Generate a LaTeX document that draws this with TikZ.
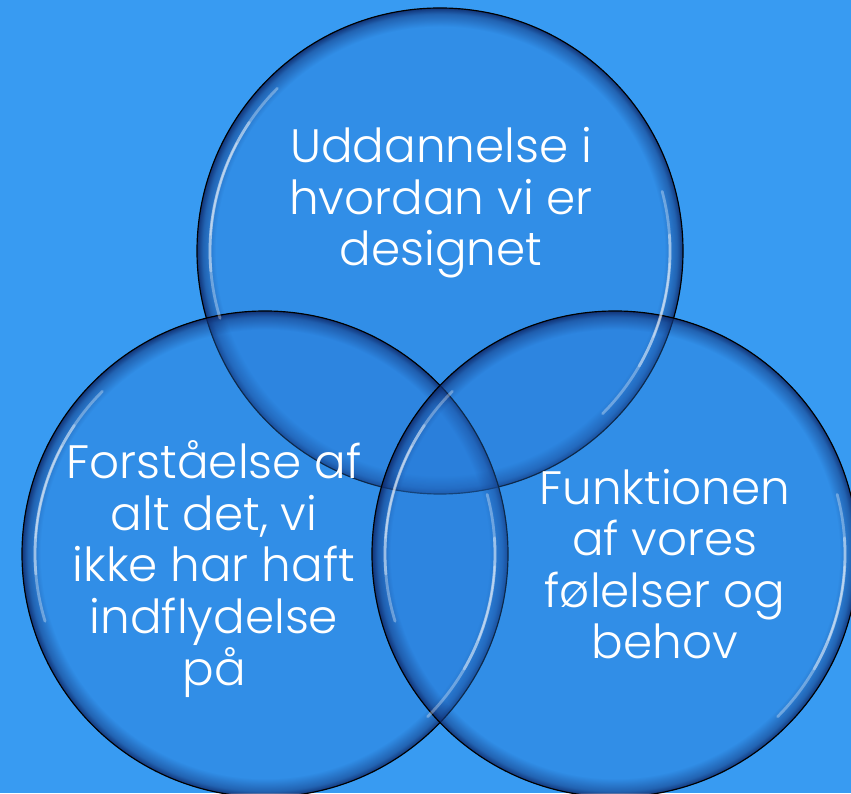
\documentclass[tikz,border=0pt]{standalone}
\usepackage{fontspec}
\newfontfamily\gothic{Poppins Light}
\usetikzlibrary{fadings}

\definecolor{bgblue}{RGB}{56,155,242}
\definecolor{ballblue}{RGB}{38,118,212}
\definecolor{rimblue}{RGB}{12,36,100}

% dark rim inside every bubble
\pgfdeclareradialshading{rimshade}{\pgfpointorigin}{color(0bp)=(pgftransparent!100); color(23bp)=(pgftransparent!100); color(24.3bp)=(pgftransparent!60); color(25bp)=(pgftransparent!10); color(50bp)=(pgftransparent!10)}
\pgfdeclarefading{rimfade}{\pgfuseshading{rimshade}}

\begin{document}
\begin{tikzpicture}[x=0.03cm,y=0.03cm,
  bubble/.style={fill=ballblue,fill opacity=.35,
    postaction={fill=rimblue,fill opacity=1,path fading=rimfade},
    postaction={draw=black,line width=1pt}},
  glint/.style={white,line width=2.4pt,line cap=round,opacity=.32},
  vtext/.style={text=white,align=center,font=\gothic\fontsize{40pt}{44pt}\selectfont}]
\fill[bgblue] (0,0) rectangle (851,793);
\useasboundingbox (0,0) rectangle (851,793);
\clip (0,0) rectangle (851,793);
% Venn circles
\coordinate (c_top) at (440,542);
\coordinate (c_left) at (265,239);
\coordinate (c_right) at (615,239);
\path[bubble] (c_top) circle[radius=243];
\path[bubble] (c_left) circle[radius=243];
\path[bubble] (c_right) circle[radius=243];
\foreach \c in {c_top,c_left,c_right}{
  \draw[glint] (\c) ++(135:230) arc[start angle=135,end angle=197,radius=230];
  \draw[glint] (\c) ++(146:230) arc[start angle=146,end angle=185,radius=230];
  \draw[glint,line width=1.2pt] (\c) ++(152:230) arc[start angle=152,end angle=176,radius=230];
  \draw[glint] (\c) ++(15:230) arc[start angle=15,end angle=-45,radius=230];
  \draw[glint] (\c) ++(4:230) arc[start angle=4,end angle=-30,radius=230];
  \draw[glint,line width=1.2pt] (\c) ++(-3:230) arc[start angle=-3,end angle=-22,radius=230];
}
% texts
\node[vtext] (t_top) at (441,590) {Uddannelse i\\hvordan vi er\\designet};
\node[vtext] (t_left) at (214,224) {Forståelse af\\alt det, vi\\ikke har haft\\indflydelse\\på};
\node[vtext] (t_right) at (665,229) {Funktionen\\af vores\\følelser og\\behov};
\end{tikzpicture}
\end{document}
